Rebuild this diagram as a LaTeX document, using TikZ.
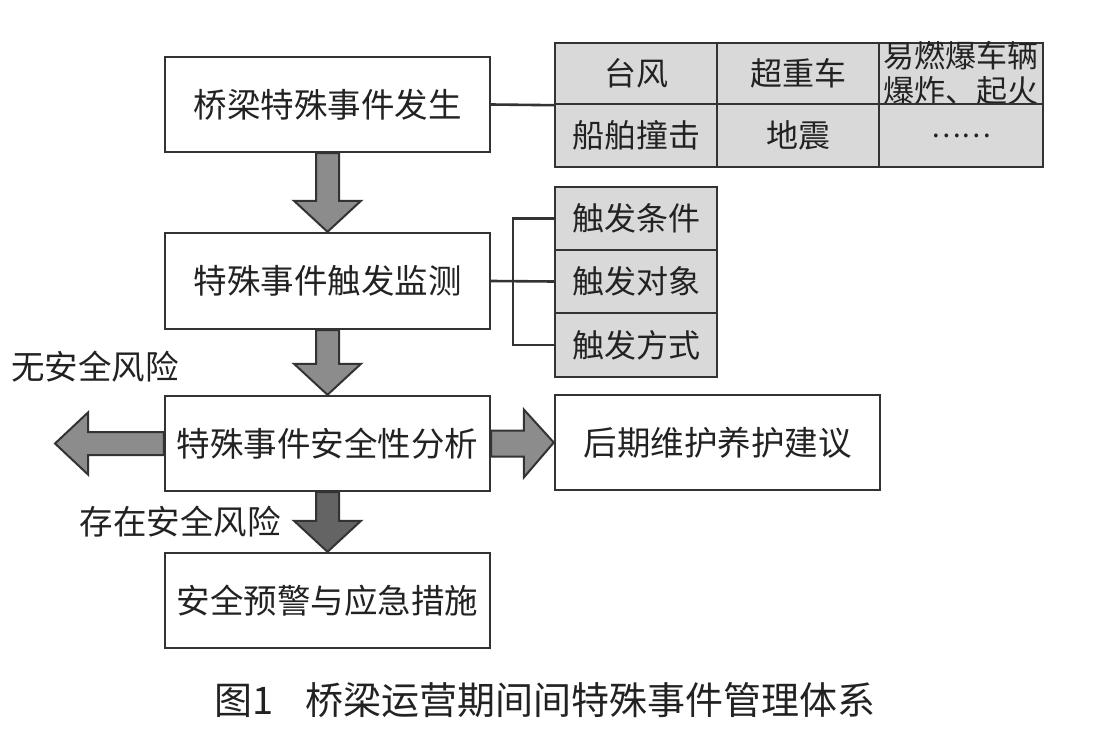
\documentclass[tikz,border=0pt]{standalone}
\usepackage{fontspec}
\setmainfont{Noto Sans CJK SC}
\usetikzlibrary{calc}
\definecolor{edge}{HTML}{333333}
\definecolor{cellgray}{HTML}{D9D9D9}
\definecolor{arrgray}{HTML}{8C8C8C}
\definecolor{arrdark}{HTML}{646464}
\definecolor{ink}{HTML}{222222}
\begin{document}
\begin{tikzpicture}[x=1pt,y=-1pt,
  mainbox/.style={draw=edge, line width=2.4pt, fill=white, minimum width=325pt, minimum height=95pt, inner sep=0pt, font=\fontsize{33.5}{38}\selectfont, text=ink},
  cellbox/.style={draw=edge, line width=2.4pt, fill=cellgray, inner sep=0pt, font=\fontsize{32}{35}\selectfont, text=ink},
  link/.style={draw=edge, line width=2.6pt},
  blockarrow/.style={draw=edge, line width=2pt, fill=arrgray, line join=miter},
  darkarrow/.style={blockarrow, fill=arrdark},
  lbl/.style={font=\fontsize{33.5}{38}\selectfont, text=ink, inner sep=0pt}]
\useasboundingbox (0,0) rectangle (1094,733);
\fill[white] (0,0) rectangle (1094,733);

% main column
\node[mainbox] (b1) at (327.5,104.5) {桥梁特殊事件发生};
\node[mainbox, minimum height=96pt] (b2) at (327.5,281) {特殊事件触发监测};
\node[mainbox] (b3) at (327.5,443.5) {特殊事件安全性分析};
\node[mainbox] (b4) at (327.5,600.5) {安全预警与应急措施};
\node[mainbox] (b5) at (717.5,442.5) {后期维护养护建议};

% event grid
\node[cellbox, minimum width=162pt, minimum height=61pt] (c11) at (636,73.5) {台风};
\node[cellbox, minimum width=162pt, minimum height=61pt] (c12) at (798,73.5) {超重车};
\node[cellbox, minimum width=164pt, minimum height=61pt] (c13) at (961,73.5) {};
\node[lbl, align=center, font=\fontsize{31}{35}\selectfont] (c13t) at (c13) {易燃爆车辆\\爆炸、起火};
\node[cellbox, minimum width=162pt, minimum height=63pt] (c21) at (636,135.5) {船舶撞击};
\node[cellbox, minimum width=162pt, minimum height=63pt] (c22) at (798,135.5) {地震};
\node[cellbox, minimum width=164pt, minimum height=63pt, font=\fontsize{28}{30}\selectfont] (c23) at (961,135.5) {……};

% trigger boxes
\node[cellbox, minimum width=162pt, minimum height=63pt] (t1) at (636,218.5) {触发条件};
\node[cellbox, minimum width=162pt, minimum height=63pt] (t2) at (636,281.5) {触发对象};
\node[cellbox, minimum width=162pt, minimum height=64pt] (t3) at (636,345) {触发方式};

% connectors
\draw[link] (b1.east) -- (c11.south west);
\coordinate (jn) at (513,281.5);
\draw[link] (b2.east) -- (t2.west);
\draw[link] (t1.west) -| (jn) |- (t3.west);

% block arrows
\path[blockarrow] let \p1=(b1.south), \p2=(b2.north) in
  (\x1-11.5pt,\y1) -- (\x1+11.5pt,\y1) -- (\x1+11.5pt,\y2+31pt) -- (\x1+33.5pt,\y2+31pt)
  -- (\x2,\y2) -- (\x1-33.5pt,\y2+31pt) -- (\x1-11.5pt,\y2+31pt) -- cycle;
\path[blockarrow] let \p1=(b2.south), \p2=(b3.north) in
  (\x1-11.5pt,\y1) -- (\x1+11.5pt,\y1) -- (\x1+11.5pt,\y2+31pt) -- (\x1+33.5pt,\y2+31pt)
  -- (\x2,\y2) -- (\x1-33.5pt,\y2+31pt) -- (\x1-11.5pt,\y2+31pt) -- cycle;
\path[darkarrow] let \p1=(b3.south), \p2=(b4.north) in
  (\x1-11.5pt,\y1) -- (\x1+11.5pt,\y1) -- (\x1+11.5pt,\y2+31pt) -- (\x1+33.5pt,\y2+31pt)
  -- (\x2,\y2) -- (\x1-33.5pt,\y2+31pt) -- (\x1-11.5pt,\y2+31pt) -- cycle;
\coordinate (lefttip) at (55,443.5);
\path[blockarrow] let \p1=(b3.west), \p2=(lefttip) in
  (\x1,\y1+11.5pt) -- (\x2+33pt,\y1+11.5pt) -- (\x2+33pt,\y1+31pt) -- (\x2,\y2)
  -- (\x2+33pt,\y1-31pt) -- (\x2+33pt,\y1-11.5pt) -- (\x1,\y1-11.5pt) -- cycle;
\path[blockarrow] let \p1=(b3.east), \p2=(b5.west) in
  (\x1,\y1+13pt) -- (\x2-30pt,\y1+13pt) -- (\x2-30pt,\y1+34pt) -- (\x2,\y2)
  -- (\x2-30pt,\y1-34pt) -- (\x2-30pt,\y1-13pt) -- (\x1,\y1-13pt) -- cycle;

% labels
\node[lbl] (nolabel) at (95,367) {无安全风险};
\node[lbl] (yeslabel) at (180,522) {存在安全风险};
\node[lbl, font=\fontsize{38}{42}\selectfont] (cap) at (545,700) {图1\hspace{32pt}桥梁运营期间间特殊事件管理体系};
\end{tikzpicture}
\end{document}
